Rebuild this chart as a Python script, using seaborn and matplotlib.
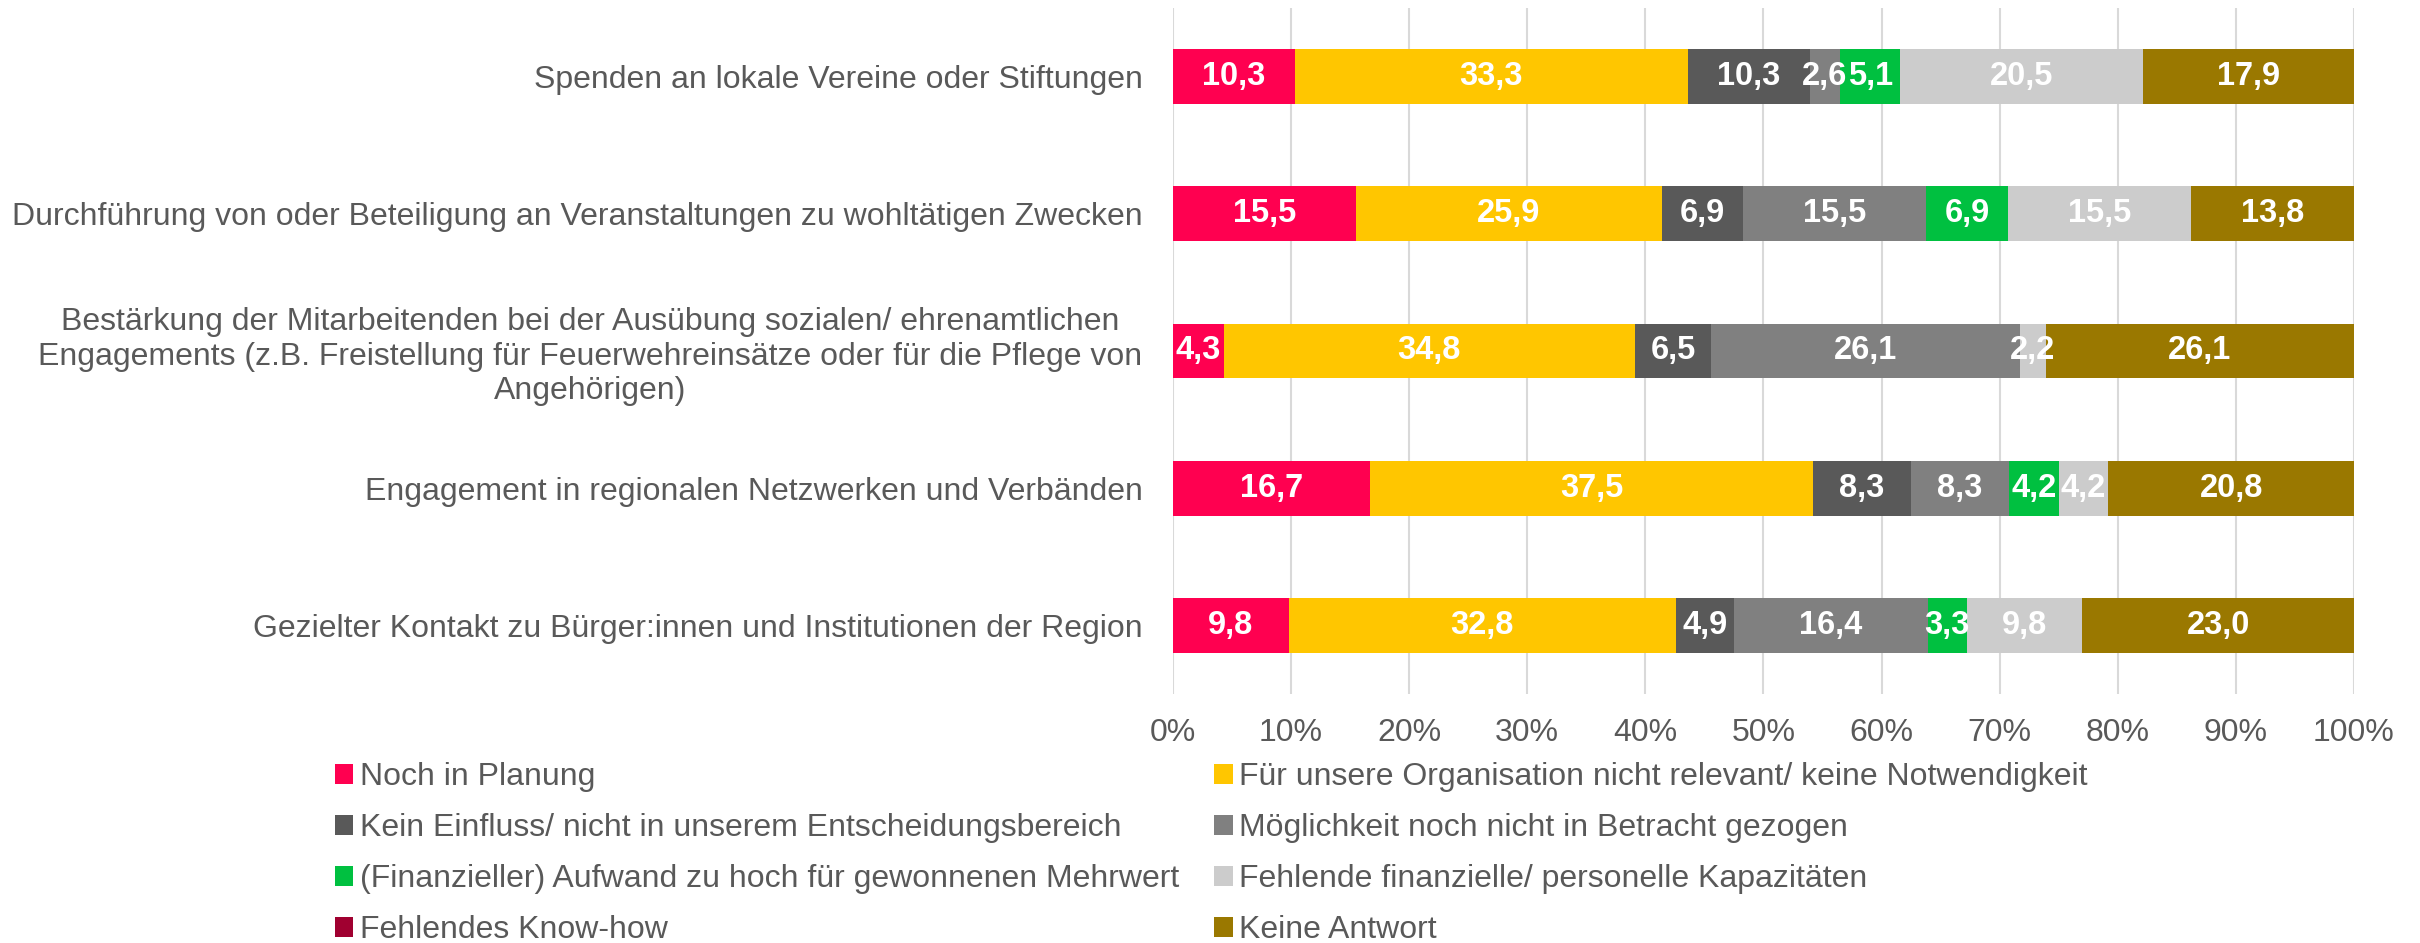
import numpy as np
import pandas as pd
import matplotlib
matplotlib.use("Agg")
import matplotlib.pyplot as plt
from matplotlib.patches import Patch
import seaborn as sns

# Categories (top to bottom)
categories = [
    "Spenden an lokale Vereine oder Stiftungen",
    "Durchführung von oder Beteiligung an Veranstaltungen zu wohltätigen Zwecken",
    "Bestärkung der Mitarbeitenden bei der Ausübung sozialen/ ehrenamtlichen\n"
    "Engagements (z.B. Freistellung für Feuerwehreinsätze oder für die Pflege von\n"
    "Angehörigen)",
    "Engagement in regionalen Netzwerken und Verbänden",
    "Gezielter Kontakt zu Bürger:innen und Institutionen der Region",
]

# Answer options in stacking order
series_names = [
    "Noch in Planung",
    "Für unsere Organisation nicht relevant/ keine Notwendigkeit",
    "Kein Einfluss/ nicht in unserem Entscheidungsbereich",
    "Möglichkeit noch nicht in Betracht gezogen",
    "(Finanzieller) Aufwand zu hoch für gewonnenen Mehrwert",
    "Fehlende finanzielle/ personelle Kapazitäten",
    "Fehlendes Know-how",
    "Keine Antwort",
]

# Percentages per answer option (one value per category)
noch_in_planung = [10.3, 15.5, 4.3, 16.7, 9.8]
nicht_relevant = [33.3, 25.9, 34.8, 37.5, 32.8]
kein_einfluss = [10.3, 6.9, 6.5, 8.3, 4.9]
nicht_betrachtet = [2.6, 15.5, 26.1, 8.3, 16.4]
aufwand_zu_hoch = [5.1, 6.9, 0.0, 4.2, 3.3]
fehlende_kapazitaeten = [20.5, 15.5, 2.2, 4.2, 9.8]
fehlendes_knowhow = [0.0, 0.0, 0.0, 0.0, 0.0]
keine_antwort = [17.9, 13.8, 26.1, 20.8, 23.0]

series_values = [
    noch_in_planung, nicht_relevant, kein_einfluss, nicht_betrachtet,
    aufwand_zu_hoch, fehlende_kapazitaeten, fehlendes_knowhow, keine_antwort,
]

colors = ["#FF0050", "#FFC600", "#595959", "#808080",
          "#00C040", "#CCCCCC", "#A00030", "#9A7800"]

x_ticks = list(range(0, 101, 10))
x_tick_labels = [f"{t}%" for t in x_ticks]

sns.set_theme(style="white")
plt.rcParams["font.family"] = ["Liberation Sans", "DejaVu Sans"]
text_color = "#595959"

fig = plt.figure(figsize=(24.2, 9.43), dpi=100)
ax = fig.add_axes([0.4847, 0.2641, 0.4880, 0.7274])

vals = np.array(series_values)          # shape (series, categories)
cum_end = np.cumsum(vals, axis=0)
cum_start = cum_end - vals

# Stacked bars: draw cumulative totals from the last series to the first,
# so each segment covers the remainder of the bar drawn before it.
for i in range(len(series_names) - 1, -1, -1):
    df = pd.DataFrame({"Kategorie": categories, "Anteil": cum_end[i]})
    sns.barplot(data=df, x="Anteil", y="Kategorie", order=categories,
                color=colors[i], saturation=1, width=0.4, errorbar=None,
                linewidth=0, ax=ax)

# Value labels in the segment centres
for i in range(len(series_names)):
    for j in range(len(categories)):
        v = vals[i, j]
        if v <= 0:
            continue
        ax.text(cum_start[i, j] + v / 2, j, f"{v:.1f}".replace(".", ","),
                ha="center", va="center", color="white",
                fontsize=23.5, fontweight="bold")

ax.set_xlim(0, 100)
ax.set_ylim(len(categories) - 0.5, -0.5)
ax.set_xticks(x_ticks)
ax.set_xticklabels(x_tick_labels)
ax.set_xlabel("")
ax.set_ylabel("")
ax.xaxis.grid(True, color="#D9D9D9", linewidth=1.5)
ax.yaxis.grid(False)
ax.set_axisbelow(True)
for s in ax.spines.values():
    s.set_visible(False)

ax.tick_params(axis="x", length=0, pad=17, labelsize=23, labelcolor=text_color)
ax.tick_params(axis="y", length=0, pad=22, labelsize=23, labelcolor=text_color)
for lbl in ax.get_yticklabels():
    lbl.set_multialignment("center")

# Legend in two columns, filled row by row
handles = [Patch(facecolor=c, edgecolor="none") for c in colors]
order = [0, 2, 4, 6, 1, 3, 5, 7]
fig.legend([handles[k] for k in order], [series_names[k] for k in order],
           ncol=2, loc="upper left", bbox_to_anchor=(0.1384, 0.192),
           frameon=False, fontsize=23, labelcolor=text_color,
           handlelength=0.58, handleheight=0.58, handletextpad=0.2,
           columnspacing=1.1, labelspacing=0.66, borderpad=0, borderaxespad=0)

fig.savefig("out.png", dpi=100)
